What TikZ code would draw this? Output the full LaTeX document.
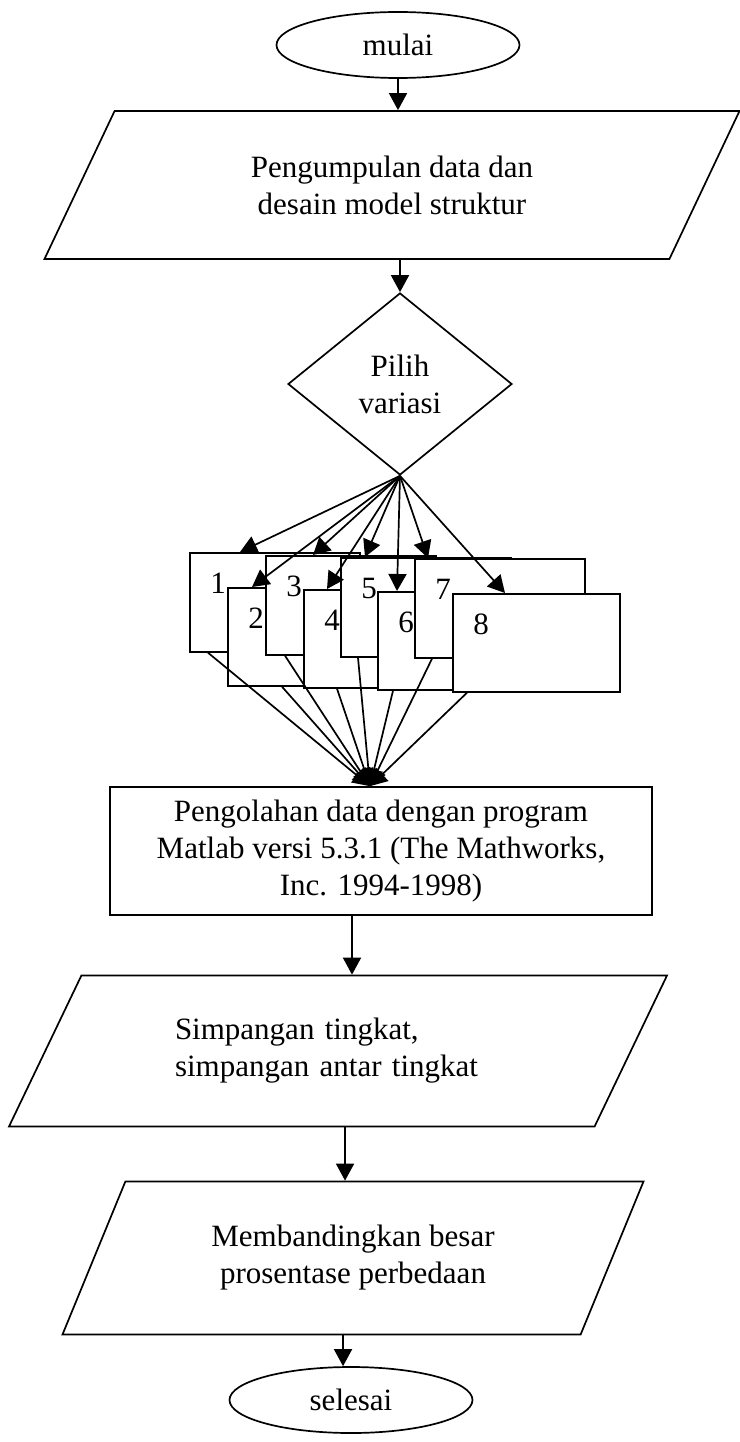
\documentclass[tikz,border=0pt]{standalone}
\usepackage{fontspec}
\setmainfont{Liberation Serif}
\usetikzlibrary{arrows.meta,shapes.geometric}

\begin{document}
\begin{tikzpicture}[->,>={Triangle[length=17pt,width=18pt]},x=1pt,y=-1pt,
    line width=1.7pt,font=\fontsize{31}{37}\selectfont]
  \tikzstyle{term}=[draw,ellipse,minimum width=243pt,minimum height=66pt,inner sep=0pt]
  \tikzstyle{io}=[draw,trapezium,trapezium stretches body,inner sep=0pt,align=center]
  \tikzstyle{choice}=[draw,diamond,aspect=1.23,minimum width=224pt,minimum height=182pt,inner sep=0pt,align=center]
  \tikzstyle{proses}=[draw,rectangle,minimum width=542pt,minimum height=128pt,align=center]
  \tikzstyle{var}=[draw,fill=white,anchor=north west,inner sep=0pt,minimum width=170pt,minimum height=99pt]
  \tikzstyle{vareven}=[var,minimum width=167pt,minimum height=98pt]
  \tikzstyle{num}=[anchor=center,xshift=29pt,yshift=-31pt]
  \useasboundingbox (0,0) rectangle (739,1442);
  \node[term] (start) at (398,45) {mulai};
  \node[io,trapezium left angle=40,trapezium right angle=140,minimum width=695pt,
        minimum height=148pt] (collect) at (392,185) {Pengumpulan data dan\\desain model struktur};
  \node[choice] (choose) at (400,384) {Pilih\\variasi};
  % variasi 1-8
  \node[var,label={[num]north west:1}] (b1) at (189,552) {};
  \node[vareven,label={[num]north west:2}] (b2) at (227,587) {};
  \node[var,label={[num]north west:3}] (b3) at (265,555) {};
  \node[vareven,label={[num]north west:4}] (b4) at (303,589) {};
  \node[var,label={[num]north west:5}] (b5) at (340,557) {};
  \node[vareven,label={[num]north west:6}] (b6) at (377,591) {};
  \node[var,label={[num]north west:7}] (b7) at (414,558) {};
  \node[vareven,label={[num]north west:8}] (b8) at (452,593) {};
  \node[proses] (proc) at (381,851) {Pengolahan data dengan program\\Matlab versi 5.3.1 (The Mathworks,\\Inc. 1994-1998)};
  \node[io,trapezium left angle=42,trapezium right angle=138,minimum width=658pt,
        minimum height=151pt,text width=326pt,align=left] (result) at (338,1051) {Simpangan tingkat,\\simpangan antar tingkat};
  \node[io,trapezium left angle=46,trapezium right angle=134,minimum width=581pt,
        minimum height=153pt] (compare) at (353,1258) {Membandingkan besar\\prosentase perbedaan};
  \node[term] (stop) at (351,1400) {selesai};
  \coordinate (conv) at ([xshift=-11pt]proc.north);

  \path (start) edge (start |- collect.north)
        (collect.south -| choose) edge (choose);
  \path (choose.south) edge ([xshift=51pt]b1.north west)
        (choose.south) edge ([xshift=25pt]b2.north west)
        (choose.south) edge ([xshift=48pt]b3.north west)
        (choose.south) edge ([xshift=24pt]b4.north west)
        (choose.south) edge ([xshift=25pt]b5.north west)
        (choose.south) edge ([xshift=20pt]b6.north west)
        (choose.south) edge ([xshift=14pt]b7.north west)
        (choose.south) edge ([xshift=53pt]b8.north west);
  \path ([xshift=19pt]b1.south west) edge (conv)
        ([xshift=55pt]b2.south west) edge (conv)
        ([xshift=20pt]b3.south west) edge (conv)
        ([xshift=34pt]b4.south west) edge (conv)
        ([xshift=18pt]b5.south west) edge (conv)
        ([xshift=16pt]b6.south west) edge (conv)
        ([xshift=18pt]b7.south west) edge (conv)
        ([xshift=15pt]b8.south west) edge (conv);
  \path ([xshift=-29pt]proc.south) edge ([xshift=-29pt]proc.south |- result.north)
        ([xshift=7pt]result.south) edge ([xshift=7pt]result.south |- compare.north)
        ([xshift=-10pt]compare.south) edge ([xshift=-10pt]compare.south |- stop.north);
\end{tikzpicture}
\end{document}
